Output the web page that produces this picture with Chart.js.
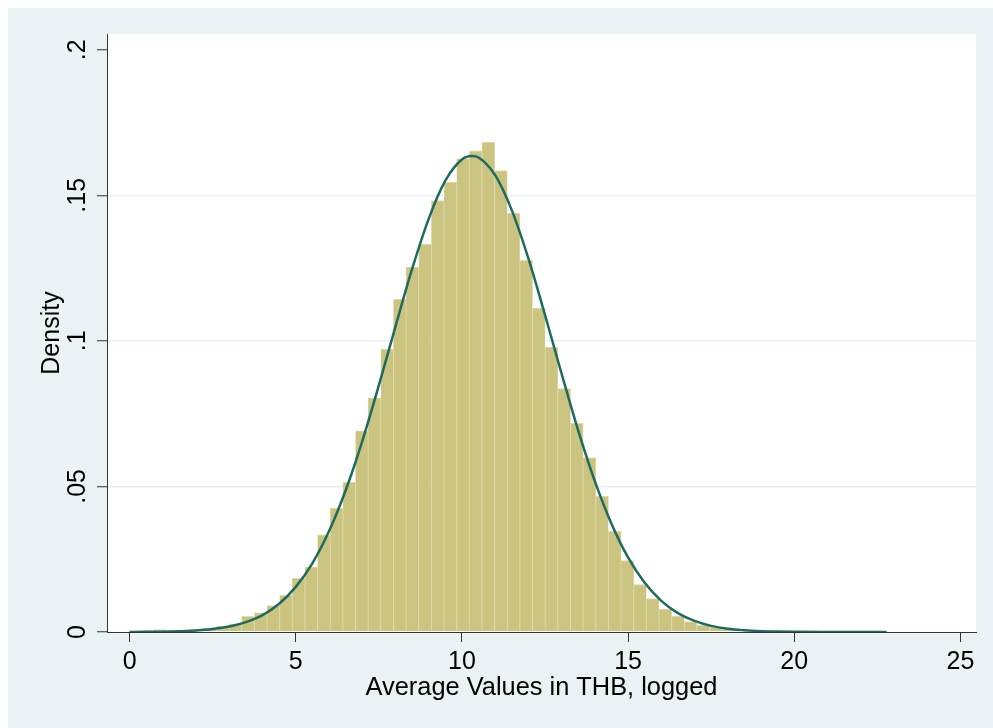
<!DOCTYPE html>
<html>
<head>
<meta charset="utf-8">
<script src="https://cdn.jsdelivr.net/npm/chart.js@4.4.0/dist/chart.umd.min.js"></script>
<style>
  html, body { margin: 0; padding: 0; background: #fff; }
  canvas { display: block; }
</style>
</head>
<body>
<canvas id="hist" width="993" height="728"></canvas>
<script>
const binStart = -0.05;
const binWidth = 0.3805;
const densities = [
  0.0003, 0.0004, 0.0008, 0.0005, 0.0006, 0.0010, 0.0014, 0.0020, 0.0028, 0.0054,
  0.0066, 0.0091, 0.0126, 0.0184, 0.0224, 0.0334, 0.0426, 0.0514, 0.0691, 0.0804,
  0.0972, 0.1143, 0.1253, 0.1332, 0.1482, 0.1545, 0.1626, 0.1653, 0.1683, 0.1585,
  0.1439, 0.1277, 0.1113, 0.0979, 0.0836, 0.0717, 0.0599, 0.0466, 0.0346, 0.0245,
  0.0163, 0.0115, 0.0079, 0.0054, 0.0036, 0.0023, 0.0016, 0.0012, 0.0009, 0.0007,
  0.0005, 0.0003, 0.0002, 0.0002, 0.0001, 0.0001, 0.0001, 0.0001, 0.0001, 0.0001
];

// normal density overlay, read at half-unit steps
const curveX = [
  0, 0.5, 1, 1.5, 2, 2.5, 3, 3.5, 4, 4.5, 5, 5.5, 6, 6.5, 7, 7.5, 8, 8.5, 9, 9.5,
  10, 10.3, 10.5, 11, 11.5, 12, 12.5, 13, 13.5, 14, 14.5, 15, 15.5, 16, 16.5, 17,
  17.5, 18, 18.5, 19, 19.5, 20, 21, 22, 22.78
];
const curveY = [
  0.00002, 0.00005, 0.00011, 0.00025, 0.0005, 0.001, 0.0019, 0.0034, 0.0058, 0.0097,
  0.0155, 0.0236, 0.0346, 0.0486, 0.0655, 0.0847, 0.1049, 0.1246, 0.1419, 0.1550,
  0.1623, 0.1635, 0.1630, 0.1569, 0.1449, 0.1283, 0.1089, 0.0887, 0.0692, 0.0518,
  0.0372, 0.0256, 0.0169, 0.0107, 0.0065, 0.0038, 0.0021, 0.0011, 0.0006, 0.0003,
  0.00013, 0.00006, 0.00001, 0.000002, 0.0000003
];

const xTicks = [0, 5, 10, 15, 20, 25];
const yTicks = [0, 0.05, 0.1, 0.15, 0.2];
const yTickLabels = ["0", ".05", ".1", ".15", ".2"];

const barData = densities.map((d, i) => ({ x: binStart + binWidth * (i + 0.5), y: d }));
const lineData = curveX.map((x, i) => ({ x: x, y: curveY[i] }));

// stata-style backdrop: bluish graph region, white plot region
const stataBackground = {
  id: "stataBackground",
  beforeDraw(chart) {
    const { ctx, chartArea: a, width, height } = chart;
    ctx.save();
    ctx.fillStyle = "#ffffff";
    ctx.fillRect(0, 0, width, height);
    ctx.fillStyle = "#eaf2f3";
    ctx.fillRect(8, 8, width - 8, height - 8);
    ctx.fillStyle = "#ffffff";
    ctx.fillRect(a.left, a.top, a.right - a.left, a.bottom - a.top);
    ctx.restore();
  }
};

Chart.defaults.font.family = "'Liberation Sans', Arial, sans-serif";
Chart.defaults.color = "#000";

new Chart(document.getElementById("hist"), {
  type: "bar",
  data: {
    datasets: [
      {
        type: "line",
        data: lineData,
        borderColor: "#1f6a5e",
        borderWidth: 2.5,
        pointRadius: 0,
        fill: false,
        cubicInterpolationMode: "monotone",
        order: 0
      },
      {
        type: "bar",
        data: barData,
        backgroundColor: "#cbc480",
        borderColor: "#e0dbab",
        borderWidth: { top: 1, left: 0.75, right: 0.75, bottom: 0 },
        barPercentage: 1,
        categoryPercentage: 1,
        order: 1
      }
    ]
  },
  options: {
    responsive: false,
    animation: false,
    layout: { padding: { left: 0, right: 17, top: 34, bottom: 0 } },
    plugins: { legend: { display: false }, tooltip: { enabled: false } },
    scales: {
      x: {
        type: "linear",
        min: -0.68,
        max: 25.47,
        offset: false,
        afterFit: s => { s.height = 96; },
        afterBuildTicks: s => { s.ticks = xTicks.map(v => ({ value: v })); },
        grid: {
          offset: false,
          color: "rgba(0,0,0,0)",
          drawOnChartArea: false,
          tickColor: "#333",
          tickLength: 10,
          tickWidth: 1
        },
        border: { display: true, color: "#333", width: 1 },
        ticks: {
          autoSkip: false,
          maxRotation: 0,
          padding: 5,
          font: { size: 25 },
          callback: v => String(v)
        },
        title: {
          display: true,
          text: "Average Values in THB, logged",
          font: { size: 25.4 },
          padding: { top: 0, bottom: 25 }
        }
      },
      y: {
        type: "linear",
        min: 0,
        max: 0.2054,
        afterFit: s => { s.width = 107; },
        afterBuildTicks: s => { s.ticks = yTicks.map(v => ({ value: v })); },
        grid: {
          color: ctx => (ctx.tick && (ctx.tick.value === 0 || ctx.tick.value === 0.2)) ? "rgba(0,0,0,0)" : "#e6eff1",
          lineWidth: 1.5,
          tickColor: "#333",
          tickLength: 10,
          tickWidth: 1
        },
        border: { display: true, color: "#333", width: 1 },
        ticks: {
          minRotation: 90,
          maxRotation: 90,
          crossAlign: "center",
          padding: 2,
          font: { size: 25 },
          callback: v => yTickLabels[yTicks.indexOf(v)] ?? ""
        },
        title: {
          display: true,
          text: "Density",
          font: { size: 25 },
          padding: { top: 37, bottom: 0 }
        }
      }
    }
  },
  plugins: [stataBackground]
});
</script>
</body>
</html>
